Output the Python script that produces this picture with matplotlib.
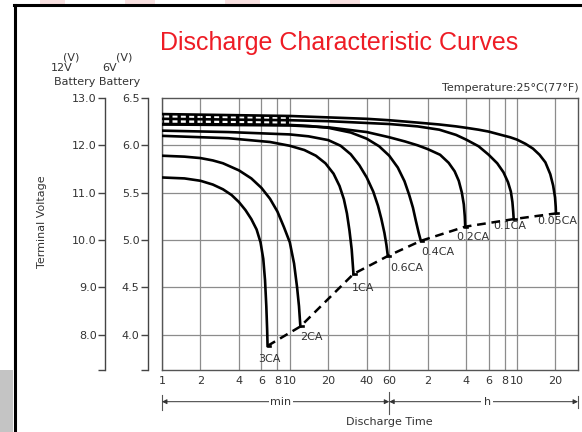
import matplotlib
matplotlib.use("Agg")
import matplotlib.pyplot as plt
from matplotlib.lines import Line2D
from matplotlib.patches import Rectangle

plt.rcParams['font.family'] = ['DejaVu Sans']
plt.rcParams['hatch.linewidth'] = 2.4

# discharge time (min) and terminal voltage (12V battery scale)
t_3ca = [1, 1.5, 2, 2.5, 3, 3.5, 4, 4.5, 5, 5.5, 5.9, 6.2, 6.4, 6.55, 6.65, 6.7]
v_3ca = [11.32, 11.3, 11.25, 11.17, 11.07, 10.95, 10.8, 10.63, 10.44, 10.22, 9.95, 9.6,
         9.15, 8.6, 8.1, 7.76]
t_2ca = [1, 1.5, 2, 2.5, 3, 4, 5, 6, 7, 8, 9, 10, 10.8, 11.4, 11.8, 12.1]
v_2ca = [11.78, 11.76, 11.73, 11.68, 11.62, 11.47, 11.3, 11.1, 10.87, 10.6, 10.27, 9.95,
         9.5, 9.0, 8.6, 8.17]
t_1ca = [1, 3.3, 7, 10, 13, 16, 19, 22, 24.5, 26.5, 28, 29.3, 30.5, 31.5]
v_1ca = [12.2, 12.15, 12.07, 11.99, 11.9, 11.78, 11.62, 11.4, 11.14, 10.86, 10.56, 10.2,
         9.8, 9.28]
t_06ca = [1, 3.3, 10, 14, 20, 25, 30, 35, 40, 45, 49, 52, 55, 57, 58.5]
v_06ca = [12.31, 12.28, 12.23, 12.19, 12.11, 11.99, 11.81, 11.58, 11.32, 11.02, 10.72, 10.45,
          10.15, 9.9, 9.66]
t_04ca = [1, 5, 10, 14, 20, 30, 40, 50, 60, 70, 79, 86, 92, 97, 102, 106]
v_04ca = [12.45, 12.44, 12.43, 12.41, 12.37, 12.27, 12.14, 11.98, 11.78, 11.53, 11.24, 10.95,
          10.68, 10.4, 10.15, 9.98]
t_02ca = [1, 10, 20, 40, 60, 80, 100, 120, 150, 175, 195, 210, 222, 230, 234, 236]
v_02ca = [12.44, 12.42, 12.38, 12.28, 12.17, 12.08, 12.0, 11.92, 11.8, 11.63, 11.45, 11.25,
          11.0, 10.75, 10.5, 10.28]
t_01ca = [1, 10, 20, 60, 100, 148, 200, 240, 300, 360, 420, 470, 510, 537, 552, 560, 565]
v_01ca = [12.56, 12.53, 12.51, 12.45, 12.4, 12.33, 12.22, 12.12, 11.98, 11.8, 11.62, 11.43,
          11.22, 11.02, 10.8, 10.6, 10.44]
t_005ca = [1, 10, 20, 40, 60, 100, 148, 200, 240, 300, 360, 450, 530, 600, 700, 800, 900,
           1000, 1092, 1150, 1190, 1205, 1210]
v_005ca = [12.66, 12.62, 12.59, 12.56, 12.53, 12.48, 12.44, 12.4, 12.37, 12.33, 12.29, 12.22,
           12.17, 12.12, 12.03, 11.93, 11.8, 11.64, 11.39, 11.15, 10.9, 10.7, 10.56]

curves = [("3CA", t_3ca, v_3ca), ("2CA", t_2ca, v_2ca), ("1CA", t_1ca, v_1ca),
          ("0.6CA", t_06ca, v_06ca), ("0.4CA", t_04ca, v_04ca), ("0.2CA", t_02ca, v_02ca),
          ("0.1CA", t_01ca, v_01ca), ("0.05CA", t_005ca, v_005ca)]
# label offsets from curve end (pixels)
label_off = {"3CA": (2, -13), "2CA": (11, -11), "1CA": (10, -14), "0.6CA": (19, -12),
             "0.4CA": (17, -11), "0.2CA": (8, -10), "0.1CA": (-4, -7), "0.05CA": (1, -8)}

# hatched band of overlapping low-rate curves
t_band = [1, 10]
band_top = [12.66, 12.62]
band_bot = [12.46, 12.44]

xticks = [1, 2, 4, 6, 8, 10, 20, 40, 60, 120, 240, 360, 480, 600, 1200]
xlabels = ['1', '2', '4', '6', '8', '10', '20', '40', '60', '2', '4', '6', '8', '10', '20']
v12_ticks = [8, 9, 10, 11, 12, 13]
v6_ticks = [4.0, 4.5, 5.0, 5.5, 6.0, 6.5]

W, H = 582, 432
TXT = '#333333'
FS = 8
fig = plt.figure(figsize=(W / 100, H / 100), dpi=100)
ax = fig.add_axes([162 / W, 1 - 370 / H, 416 / W, 272 / H])

ymin, ymax = 7.25, 13.0
ax.set_xscale('log')
ax.set_xlim(1, 1800)
ax.set_ylim(ymin, ymax)
ax.set_xticks(xticks)
ax.set_xticklabels(xlabels)
ax.minorticks_off()
ax.set_yticks([8, 9, 10, 11, 12])
ax.set_yticklabels([])
ax.tick_params(axis='both', length=0, labelsize=FS, labelcolor=TXT, pad=4)
ax.grid(True, color='#8c8c8c', lw=0.9)
for s in ax.spines.values():
    s.set_color('#555555')
    s.set_linewidth(1.0)

ends_t, ends_v = [], []
for name, t, v in curves:
    ax.plot(t, v, color='black', lw=1.9, solid_joinstyle='round', zorder=3)
    ax.plot([t[-1], t[-1] * 1.04], [v[-1], v[-1]], color='black', lw=1.9, zorder=3)
    ends_t.append(t[-1])
    ends_v.append(v[-1])
    dx, dy = label_off[name]
    ax.annotate(name, (t[-1], v[-1]), xytext=(dx, dy), textcoords='offset pixels',
                ha='center', va='center', fontsize=FS, color=TXT)
ax.plot(ends_t, ends_v, color='black', lw=1.8, ls=(0, (3.5, 2.3)), zorder=3)

ax.fill_between(t_band, band_top, band_bot, facecolor='none', edgecolor='black',
                hatch='||', lw=0, zorder=2)

# 12V and 6V scales
sec12 = ax.secondary_yaxis(-57 / 416, functions=(lambda v: v, lambda v: v))
sec12.set_yticks([ymin] + v12_ticks)
sec12.set_yticklabels([''] + ['%.1f' % v for v in v12_ticks])
sec6 = ax.secondary_yaxis(-14 / 416, functions=(lambda v: v / 2, lambda v: v * 2))
sec6.set_yticks([ymin / 2] + v6_ticks)
sec6.set_yticklabels([''] + ['%.1f' % v for v in v6_ticks])
for sec in (sec12, sec6):
    sec.spines['left'].set_color('#444444')
    sec.spines['left'].set_linewidth(1.0)
    sec.tick_params(length=5, width=1.0, color='#444444', labelsize=FS,
                    labelcolor=TXT, pad=1)

# time range arrows
tr = ax.get_xaxis_transform()
ya = -0.1165
arrow = dict(arrowstyle='<|-|>', lw=0.7, color=TXT, mutation_scale=7,
             shrinkA=0, shrinkB=0)
ax.annotate('', xy=(1, ya), xytext=(60, ya), xycoords=tr, arrowprops=arrow,
            annotation_clip=False)
ax.annotate('', xy=(60, ya), xytext=(1800, ya), xycoords=tr, arrowprops=arrow,
            annotation_clip=False)
for xv, y0, y1 in [(1, -0.092, -0.147), (60, -0.08, -0.16), (1800, -0.095, -0.14)]:
    ax.plot([xv, xv], [y0, y1], color='#555555', lw=0.8, transform=tr, clip_on=False)
ax.text(8.5, ya, 'min', transform=tr, ha='center', va='center', fontsize=FS,
        color=TXT, bbox=dict(fc='white', ec='none', pad=1))
ax.text(350, ya, 'h', transform=tr, ha='center', va='center', fontsize=FS,
        color=TXT, bbox=dict(fc='white', ec='none', pad=2))
ax.text(60, -0.19, 'Discharge Time', transform=tr, ha='center', va='center',
        fontsize=FS, color=TXT)


def fx(x):
    return x / W


def fy(y):
    return 1 - y / H


fig.text(fx(42), fy(222), 'Terminal Voltage', rotation=90, ha='center', va='center',
         fontsize=FS, color=TXT)
fig.text(fx(71), fy(57), '(V)', ha='center', va='center', fontsize=FS, color=TXT)
fig.text(fx(124), fy(57), '(V)', ha='center', va='center', fontsize=FS, color=TXT)
fig.text(fx(62), fy(68), '12V', ha='center', va='center', fontsize=FS, color=TXT)
fig.text(fx(110), fy(68), '6V', ha='center', va='center', fontsize=FS, color=TXT)
fig.text(fx(97), fy(82), 'Battery Battery', ha='center', va='center', fontsize=FS,
         color=TXT)
fig.text(fx(579), fy(88), 'Temperature:25\u00b0C(77\u00b0F)', ha='right', va='center',
         fontsize=FS, color=TXT)
fig.text(fx(339), fy(43), 'Discharge Characteristic Curves', ha='center', va='center',
         fontsize=18, color='#ee1c25', family='Liberation Sans')

# scan frame
fig.add_artist(Line2D([fx(15), fx(15)], [0, fy(5)], color='black', lw=2.2))
fig.add_artist(Line2D([fx(14), 1], [fy(5), fy(5)], color='black', lw=2.2))
fig.add_artist(Rectangle((0, 0), fx(13), 62 / H, color='#c4c4c4', lw=0))
for x0, w in [(40, 25), (125, 30), (225, 35), (330, 30)]:
    fig.add_artist(Rectangle((fx(x0), fy(4)), w / W, 4 / H, color='#f8e0e0', lw=0))

fig.savefig('out.png', dpi=100)
